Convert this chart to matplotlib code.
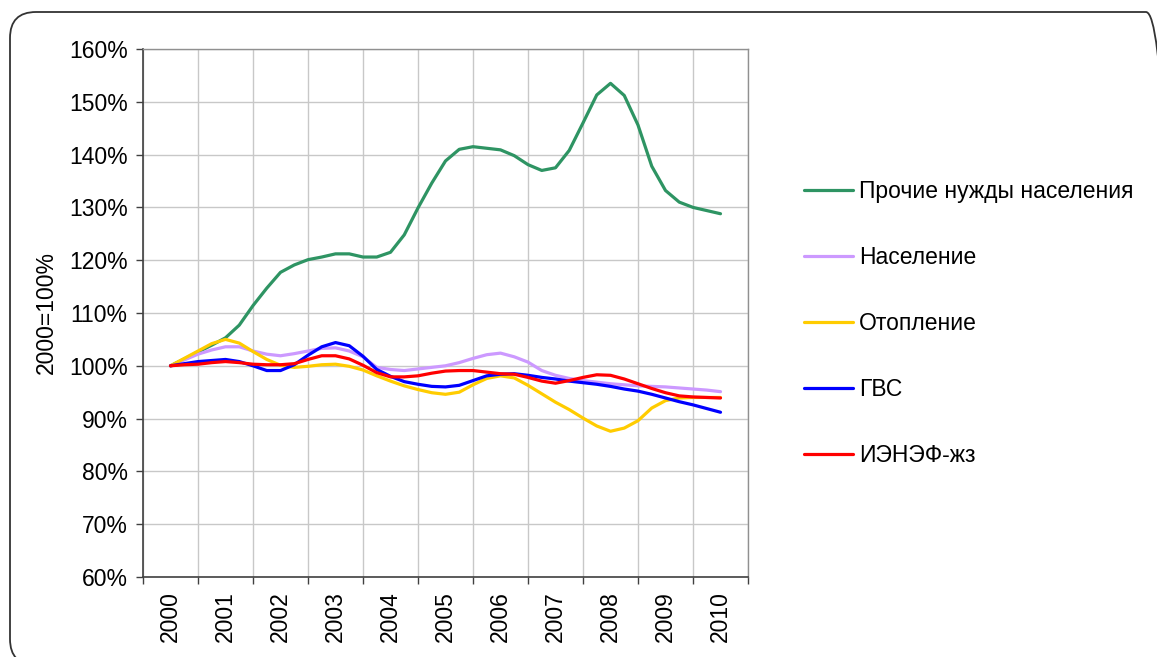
import numpy as np
import matplotlib.pyplot as plt
from matplotlib.patches import FancyBboxPatch
from matplotlib.ticker import FuncFormatter

plt.rcParams['font.family'] = ['Liberation Sans', 'DejaVu Sans']

years = ['2000', '2001', '2002', '2003', '2004', '2005',
         '2006', '2007', '2008', '2009', '2010']

# quarterly readings, 2000 = 100%
quarters = np.arange(41) / 4.0

prochie = [100, 101.3, 102.6, 103.9, 105.3, 107.7, 111.4, 114.7, 117.7, 119.1,
           120.1, 120.6, 121.2, 121.2, 120.6, 120.6, 121.5, 124.8, 129.9, 134.6,
           138.8, 141.0, 141.5, 141.2, 140.9, 139.8, 138.1, 137.0, 137.5, 140.8,
           146.0, 151.3, 153.5, 151.2, 145.6, 137.8, 133.2, 131.0, 130.0, 129.4,
           128.8]

naselenie = [100, 101.1, 102.2, 103.0, 103.6, 103.6, 102.8, 102.2, 101.9, 102.3,
             102.8, 103.3, 103.4, 102.8, 101.7, 99.7, 99.3, 99.1, 99.4, 99.7,
             100.0, 100.6, 101.4, 102.1, 102.4, 101.7, 100.7, 99.1, 98.2, 97.6,
             97.2, 96.9, 96.6, 96.4, 96.2, 96.1, 96.0, 95.8, 95.6, 95.4,
             95.1]

otoplenie = [100, 101.4, 102.8, 104.2, 105.0, 104.3, 102.7, 101.2, 100.1, 99.7,
             99.9, 100.2, 100.3, 99.9, 99.2, 98.1, 97.1, 96.2, 95.5, 94.9,
             94.6, 95.0, 96.4, 97.6, 98.1, 97.7, 96.3, 94.7, 93.1, 91.7,
             90.1, 88.6, 87.6, 88.2, 89.6, 92.0, 93.4, 93.9, 94.0, 94.0,
             94.0]

gvs = [100, 100.4, 100.8, 101.0, 101.2, 100.8, 100.0, 99.1, 99.1, 100.2,
       102.0, 103.6, 104.4, 103.8, 101.8, 99.3, 98.0, 97.0, 96.5, 96.1,
       96.0, 96.3, 97.2, 98.1, 98.4, 98.5, 98.2, 97.8, 97.5, 97.1,
       96.8, 96.5, 96.1, 95.6, 95.2, 94.6, 93.9, 93.2, 92.6, 91.9,
       91.2]

ienef = [100, 100.2, 100.3, 100.6, 100.8, 100.6, 100.3, 100.2, 100.2, 100.4,
         101.2, 101.9, 101.9, 101.3, 100.1, 98.7, 97.9, 97.9, 98.1, 98.6,
         99.0, 99.1, 99.1, 98.8, 98.5, 98.4, 97.8, 97.1, 96.7, 97.2,
         97.8, 98.3, 98.2, 97.5, 96.6, 95.7, 94.9, 94.3, 94.1, 94.0,
         93.9]

series = [
    (prochie, 'Прочие нужды населения', '#2E9463'),
    (naselenie, 'Население', '#CC99FF'),
    (otoplenie, 'Отопление', '#FFCC00'),
    (gvs, 'ГВС', '#0000FF'),
    (ienef, 'ИЭНЭФ-жз', '#FF0000'),
]

fs = 16.5

fig = plt.figure(figsize=(11.57, 6.57), dpi=100)
ax = fig.add_axes([0.1236, 0.1218, 0.5229, 0.8036])

for vals, name, col in series:
    ax.plot(quarters, vals, color=col, lw=2.3, label=name,
            solid_joinstyle='round', solid_capstyle='round')

ax.set_xlim(-0.5, 10.5)
ax.set_ylim(60, 160)
ax.set_yticks(np.arange(60, 161, 10))
ax.yaxis.set_major_formatter(FuncFormatter(lambda v, p: '%d%%' % v))

# tick marks on category boundaries, labels in the middle
ax.set_xticks(np.arange(-0.5, 10.6, 1.0))
ax.set_xticklabels([])
ax.set_xticks(np.arange(11), minor=True)
ax.set_xticklabels(years, minor=True, rotation=90, fontsize=fs)
ax.tick_params(axis='x', which='minor', length=0, pad=10)
ax.tick_params(axis='x', which='major', length=5, width=1, color='#404040')
ax.tick_params(axis='y', length=5, width=1, color='#404040', labelsize=fs, pad=6)

ax.grid(True, which='major', color='#C8C8C8', lw=1)
ax.set_axisbelow(True)

for s in ['left', 'bottom']:
    ax.spines[s].set_color('#404040')
    ax.spines[s].set_linewidth(1.2)
for s in ['top', 'right']:
    ax.spines[s].set_color('#909090')
    ax.spines[s].set_linewidth(1)

ax.set_ylabel('2000=100%', fontsize=fs, labelpad=8)

ax.legend(loc='center left', bbox_to_anchor=(1.058, 0.4805), frameon=False,
          fontsize=fs, handlelength=2.14, handletextpad=0.26, labelspacing=1.88)

# rounded frame around the whole chart (runs off the right and bottom edges)
frame = FancyBboxPatch((10, -8), 1162, 653,
                       boxstyle='round,pad=0,rounding_size=26',
                       transform=None, fill=False, ec='#333333', lw=1.3)
fig.add_artist(frame)

fig.savefig('out.png', dpi=100)
